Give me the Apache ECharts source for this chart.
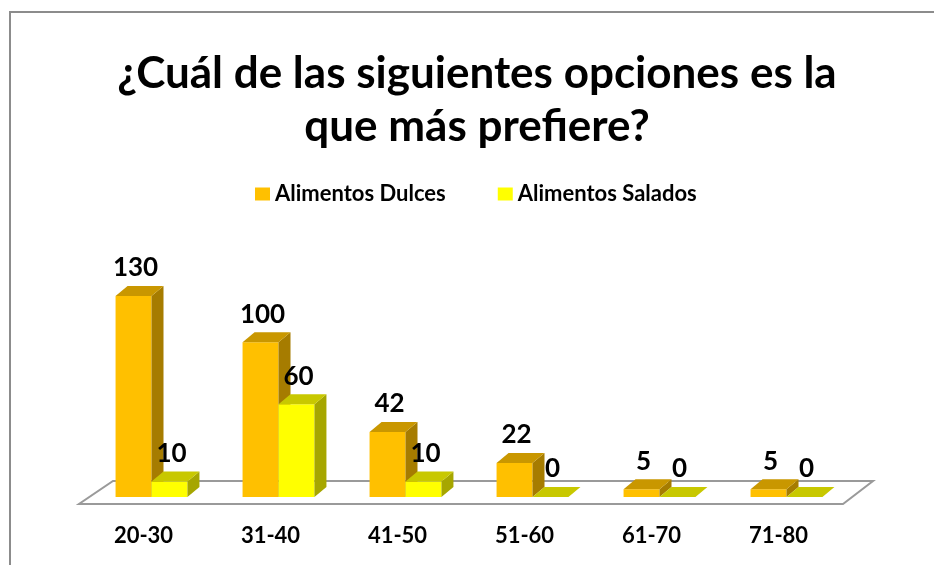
<!DOCTYPE html>
<html>
<head>
<meta charset="utf-8">
<script src="https://cdn.jsdelivr.net/npm/echarts@6/dist/echarts.min.js"></script>
<style>
  html, body { margin: 0; padding: 0; background: #fff; }
  #chart { width: 934px; height: 565px; }
</style>
</head>
<body>
<div id="chart"></div>
<script>
// data
var ageGroups = ["20-30", "31-40", "41-50", "51-60", "61-70", "71-80"];
var dulces = [130, 100, 42, 22, 5, 5];
var salados = [10, 60, 10, 0, 0, 0];
var seriesNames = ["Alimentos Dulces", "Alimentos Salados"];

var myChart = echarts.init(document.getElementById("chart"), null, { renderer: "canvas" });

// front / top / side colours for the fake 3D bars
var faces = [
  { front: "#FFC000", top: "#C99700", side: "#A67C00" },
  { front: "#FFFF00", top: "#C8C800", side: "#A6A600" }
];
var depthX = 12, depthY = -10;
var fontFam = "Lato, 'Open Sans', sans-serif";

function render3dBar(params, api) {
  var cat = api.value(0);
  var val = api.value(1);
  var base = api.coord([cat, 0]);
  var top = api.coord([cat, val]);
  var w = api.size([1, 0])[0] * 0.283;
  var x0 = base[0] + (params.seriesIndex === 0 ? -w : 0);
  var yb = base[1], yt = top[1];
  var c = faces[params.seriesIndex];
  var kids = [];
  if (yb - yt > 0.5) {
    kids.push({
      type: "rect",
      shape: { x: x0, y: yt, width: w, height: yb - yt },
      style: { fill: c.front }
    });
    kids.push({
      type: "polygon",
      shape: { points: [[x0 + w, yt], [x0 + w + depthX, yt + depthY], [x0 + w + depthX, yb + depthY], [x0 + w, yb]] },
      style: { fill: c.side }
    });
  }
  kids.push({
    type: "polygon",
    shape: { points: [[x0, yt], [x0 + depthX, yt + depthY], [x0 + w + depthX, yt + depthY], [x0 + w, yt]] },
    style: { fill: c.top }
  });
  kids.push({
    type: "text",
    style: {
      text: String(val),
      x: x0 + w / 2 + 2,
      y: yt + depthY - 5,
      align: "center",
      verticalAlign: "bottom",
      fontSize: 26,
      fontWeight: "bold",
      fontFamily: fontFam,
      fill: "#000"
    }
  });
  return { type: "group", children: kids };
}

function toPairs(arr) {
  return arr.map(function (v, i) { return [i, v]; });
}

var option = {
  animation: false,
  backgroundColor: "#fff",
  title: {
    text: "¿Cuál de las siguientes opciones es la\nque más prefiere?",
    left: 477,
    textAlign: "center",
    top: 47,
    padding: 0,
    textStyle: {
      fontFamily: fontFam,
      fontSize: 44,
      fontWeight: "bold",
      lineHeight: 53,
      color: "#000"
    }
  },
  legend: {
    left: 250,
    top: 178,
    icon: "rect",
    itemWidth: 15,
    itemHeight: 13,
    itemGap: 52,
    data: seriesNames,
    textStyle: { fontFamily: fontFam, fontSize: 22, fontWeight: "bold", color: "#000" }
  },
  graphic: [
    {
      type: "polyline",
      shape: { points: [[10, 565], [10, 12], [934, 12]] },
      style: { stroke: "#8c8c8c", lineWidth: 2, fill: null },
      z: 0
    },
    {
      type: "polygon",
      shape: { points: [[79, 504], [843, 504], [873, 481], [113, 481]] },
      style: { fill: "#fff", stroke: "#9a9a9a", lineWidth: 2 },
      z: 0
    }
  ],
  grid: { left: 88, right: 84, top: 265, bottom: 68 },
  xAxis: {
    type: "category",
    data: ageGroups,
    axisLine: { show: false },
    axisTick: { show: false },
    axisLabel: {
      margin: 28,
      padding: [0, 16, 0, 0],
      fontFamily: fontFam,
      fontSize: 22,
      fontWeight: "bold",
      color: "#000"
    }
  },
  yAxis: {
    type: "value",
    min: 0,
    max: 150,
    show: false,
    splitLine: { show: false }
  },
  series: [
    {
      name: seriesNames[0],
      type: "custom",
      renderItem: render3dBar,
      itemStyle: { color: faces[0].front },
      encode: { x: 0, y: 1 },
      data: toPairs(dulces),
      z: 2
    },
    {
      name: seriesNames[1],
      type: "custom",
      renderItem: render3dBar,
      itemStyle: { color: faces[1].front },
      encode: { x: 0, y: 1 },
      data: toPairs(salados),
      z: 3
    }
  ]
};

myChart.setOption(option);
window.addEventListener("resize", myChart.resize);
</script>
</body>
</html>
